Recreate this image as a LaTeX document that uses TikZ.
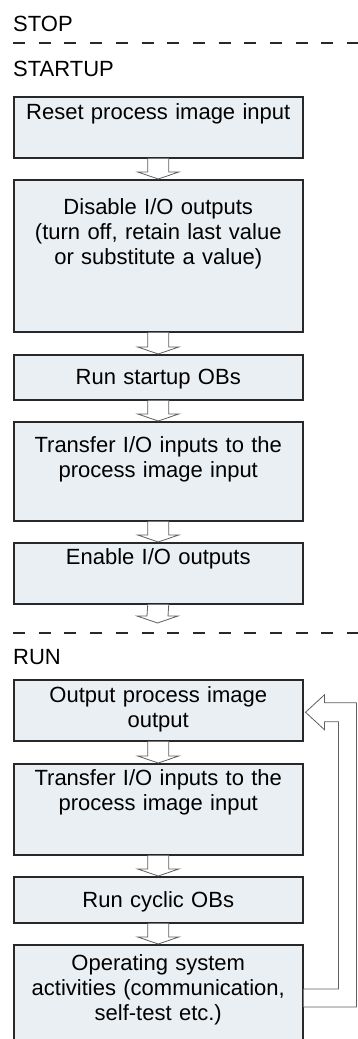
\documentclass[tikz,border=0pt]{standalone}
\usepackage{fontspec}
\setmainfont{Liberation Sans}
\usetikzlibrary{calc}

\definecolor{boxfill}{RGB}{234,239,243}
\definecolor{boxline}{RGB}{40,40,40}
\definecolor{arrline}{RGB}{95,95,95}

\tikzset{
	procbox/.style={draw=boxline, fill=boxfill, line width=1.5pt, inner sep=0pt,
		text width=289pt, align=center, anchor=north west,
		font=\fontsize{22pt}{25pt}\selectfont},
	phasetxt/.style={anchor=base west, inner sep=0pt, font=\fontsize{22pt}{25pt}\selectfont},
	phaseline/.style={draw=boxline, line width=1.4pt, dash pattern=on 12pt off 13.7pt},
	hollowarr/.style={draw=arrline, line width=0.8pt, fill=white, line join=miter}
}

% hollow down arrow between two points
\newcommand{\flowarrow}[2]{%
	\draw[hollowarr] ($#1+(-10.5,0)$) -- ($#2+(-10.5,7)$) -- ($#2+(-20.5,7)$)
		-- #2 -- ($#2+(20.5,7)$) -- ($#2+(10.5,7)$) -- ($#1+(10.5,0)$);}

\begin{document}
\begin{tikzpicture}[x=1pt, y=1pt]
	\useasboundingbox (0,0) rectangle (358,-1039);

	% 1. phase labels and separators
	\node[phasetxt] (stoptxt) at (13,-31) {STOP};
	\node[phasetxt] (startuptxt) at (13,-76) {STARTUP};
	\node[phasetxt] (runtxt) at (13,-664) {RUN};

	\coordinate (sepAL) at (13,-43);
	\coordinate (sepAR) at (358,-43);
	\coordinate (sepBL) at (13,-633);
	\coordinate (sepBR) at (358,-633);
	\draw[phaseline] (sepAL) -- (sepAR);
	\draw[phaseline] (sepBL) -- (sepBR);

	% 2. startup steps
	\node[procbox, text height=23pt, text depth=38pt] (reset) at (13,-96) {Reset process image input};
	\node[procbox, text height=35pt, text depth=117pt] (disable) at (13,-179)
		{Disable I/O outputs\\(turn off, retain last value\\or substitute a value)};
	\node[procbox, text height=30pt, text depth=15pt] (startob) at (13,-354) {Run startup OBs};
	\node[procbox, text height=31pt, text depth=68pt] (xferin) at (13,-421)
		{Transfer I/O inputs to the\\process image input};
	\node[procbox, text height=22pt, text depth=39pt] (enable) at (13,-542) {Enable I/O outputs};
	\coordinate (startend) at (157.5,-623);

	% 3. run steps
	\node[procbox, text height=23pt, text depth=38pt] (outimg) at (13,-679)
		{Output process image\\output};
	\node[procbox, text height=22pt, text depth=69pt] (xfercyc) at (13,-763)
		{Transfer I/O inputs to the\\process image input};
	\node[procbox, text height=31pt, text depth=15pt] (cycob) at (13,-876) {Run cyclic OBs};
	\node[procbox, text height=26pt, text depth=80pt] (osact) at (13,-944)
		{Operating system\\activities (communication,\\self-test etc.)};

	% 4. down arrows
	\foreach \a/\b in {reset/disable, disable/startob, startob/xferin, xferin/enable,
		outimg/xfercyc, xfercyc/cycob, cycob/osact}
		{\flowarrow{(\a.south)}{(\b.north)}}
	\flowarrow{(enable.south)}{(startend)}

	% 5. cycle back arrow
	\coordinate (fbtip) at ($(outimg.east)+(2,-2)$);
	\draw[hollowarr] ($(osact.north east)+(0,-45)$) -- ++(35,0)
		|- ($(fbtip)+(19,-9.5)$) -- ++(0,-8) -- (fbtip) -- ++(19,17.5) -- ++(0,-8)
		-| ($(osact.north east)+(53,-63)$) -- ++(-53,0);

\end{tikzpicture}
\end{document}
